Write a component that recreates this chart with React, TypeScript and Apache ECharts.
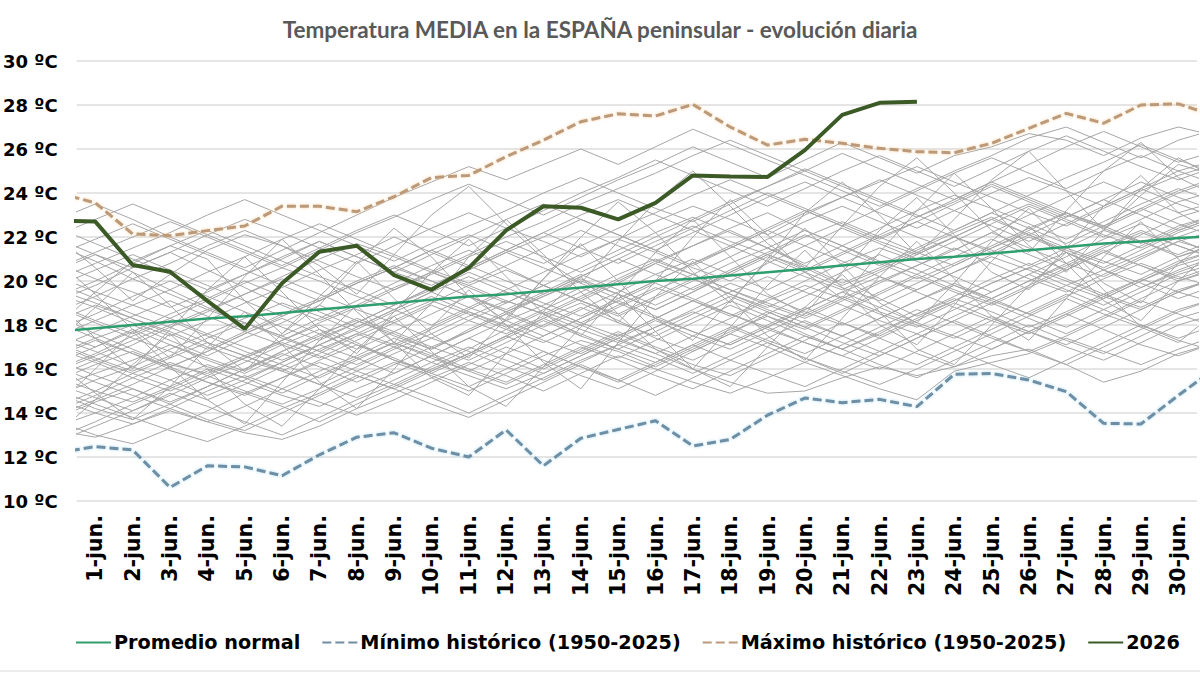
import React, { useEffect, useRef } from "react";
import * as echarts from "echarts";

// x positions: day of June (0 = 31-may, 31 = 1-jul, both clipped at the plot edges)
const dayNumbers = [0, 1, 2, 3, 4, 5, 6, 7, 8, 9, 10, 11, 12, 13, 14, 15, 16, 17, 18, 19, 20, 21, 22, 23, 24, 25, 26, 27, 28, 29, 30, 31];

const categories = [
  "1-jun.", "2-jun.", "3-jun.", "4-jun.", "5-jun.", "6-jun.", "7-jun.", "8-jun.", "9-jun.", "10-jun.",
  "11-jun.", "12-jun.", "13-jun.", "14-jun.", "15-jun.", "16-jun.", "17-jun.", "18-jun.", "19-jun.", "20-jun.",
  "21-jun.", "22-jun.", "23-jun.", "24-jun.", "25-jun.", "26-jun.", "27-jun.", "28-jun.", "29-jun.", "30-jun.",
];

const yTicks = [10, 12, 14, 16, 18, 20, 22, 24, 26, 28, 30];

const promedioNormal = [17.7, 17.85, 18.0, 18.15, 18.3, 18.4, 18.55, 18.7, 18.85, 19.0, 19.15, 19.3, 19.4, 19.55, 19.7, 19.85, 20.0, 20.1, 20.25, 20.4, 20.55, 20.7, 20.85, 21.0, 21.1, 21.25, 21.4, 21.55, 21.7, 21.8, 21.95, 22.05];
const minimoHistorico = [12.2, 12.47, 12.32, 10.62, 11.6, 11.55, 11.15, 12.1, 12.9, 13.1, 12.4, 12.0, 13.23, 11.6, 12.85, 13.25, 13.65, 12.5, 12.8, 13.9, 14.68, 14.47, 14.62, 14.29, 15.76, 15.8, 15.5, 14.97, 13.53, 13.5, 14.8, 16.04];
const maximoHistorico = [24.0, 23.55, 22.14, 22.06, 22.29, 22.5, 23.4, 23.4, 23.15, 23.83, 24.7, 24.8, 25.65, 26.4, 27.24, 27.6, 27.5, 28.03, 27.0, 26.18, 26.44, 26.26, 26.03, 25.88, 25.83, 26.26, 26.94, 27.62, 27.17, 28.0, 28.05, 27.5];
const year2026 = [22.75, 22.7, 20.73, 20.42, 19.1, 17.82, 19.9, 21.33, 21.6, 20.27, 19.6, 20.6, 22.3, 23.4, 23.33, 22.8, 23.55, 24.8, 24.75, 24.73, 25.95, 27.55, 28.1, 28.15];

const historicalYears = [
  "1950", "1951", "1952", "1953", "1954", "1955", "1956", "1957", "1958", "1959",
  "1960", "1961", "1962", "1963", "1964", "1965", "1966", "1967", "1968", "1969",
  "1970", "1971", "1972", "1973", "1974", "1975", "1976", "1977", "1978", "1979",
  "1980", "1981", "1982", "1983", "1984", "1985", "1986", "1987", "1988", "1989",
  "1990", "1991", "1992", "1993", "1994", "1995", "1996", "1997", "1998", "1999",
  "2000", "2001", "2002", "2003", "2004", "2005", "2006", "2007", "2008", "2009",
  "2010", "2011", "2012", "2013",
];
const historicalValues = [
  [15.2, 15.8, 16.4, 17.1, 16.5, 15.9, 16.8, 17.6, 18.2, 17.5, 16.9, 17.8, 18.6, 19.3, 20.1, 19.4, 18.7, 19.5, 20.4, 21.2, 20.6, 19.8, 20.5, 21.3, 22.0, 21.4, 20.7, 21.5, 22.3, 21.8, 21.1, 21.6],
  [18.4, 17.6, 16.9, 16.2, 15.8, 16.5, 17.3, 18.0, 17.2, 16.4, 15.9, 16.7, 17.5, 18.3, 19.0, 18.2, 17.4, 16.8, 17.6, 18.5, 19.3, 20.1, 19.2, 18.4, 19.1, 19.9, 20.6, 21.3, 20.5, 19.7, 20.4, 21.0],
  [20.5, 21.2, 20.4, 19.6, 18.8, 18.1, 17.5, 18.3, 19.1, 19.9, 20.7, 21.4, 20.6, 19.8, 19.1, 19.9, 20.8, 21.6, 22.3, 21.5, 20.7, 19.9, 20.6, 21.4, 22.2, 22.9, 22.1, 21.3, 20.5, 21.2, 22.0, 22.6],
  [13.8, 14.5, 15.1, 14.4, 13.7, 13.2, 14.0, 14.8, 15.6, 16.3, 15.7, 15.0, 15.8, 16.6, 17.3, 16.8, 16.1, 16.9, 17.7, 18.4, 17.6, 16.9, 17.6, 18.5, 19.2, 18.6, 17.9, 18.6, 19.4, 20.1, 19.5, 19.0],
  [16.9, 16.3, 15.6, 15.0, 15.7, 16.5, 17.2, 16.6, 15.9, 15.3, 16.1, 16.9, 17.8, 18.6, 18.0, 17.3, 16.7, 17.5, 18.3, 19.1, 19.8, 19.2, 18.5, 17.9, 18.7, 19.5, 20.3, 19.6, 18.9, 19.7, 20.5, 21.1],
  [19.1, 19.8, 20.6, 21.3, 20.5, 19.7, 18.9, 18.2, 18.9, 19.7, 20.4, 19.8, 19.1, 18.5, 19.3, 20.1, 20.9, 21.6, 22.4, 23.1, 22.3, 21.6, 20.8, 20.1, 20.8, 21.6, 22.4, 23.1, 22.5, 21.8, 21.2, 21.9],
  [14.6, 14.0, 13.5, 14.2, 15.0, 15.7, 15.1, 14.5, 13.9, 14.6, 15.4, 16.2, 17.0, 16.4, 15.7, 15.1, 15.9, 16.8, 17.6, 17.0, 16.3, 17.1, 17.9, 18.7, 18.1, 17.4, 16.8, 17.5, 18.3, 19.1, 18.5, 17.9],
  [17.5, 18.2, 18.9, 18.3, 17.6, 17.0, 16.4, 17.1, 17.9, 18.7, 19.5, 20.2, 19.5, 18.8, 18.1, 18.9, 19.7, 19.1, 18.4, 19.2, 20.0, 20.8, 21.5, 20.9, 20.2, 19.5, 20.3, 21.1, 21.9, 22.6, 21.9, 21.2],
  [21.6, 20.9, 20.1, 19.4, 18.7, 19.4, 20.2, 21.0, 21.7, 21.1, 20.4, 19.7, 19.0, 19.8, 20.6, 21.4, 22.2, 22.9, 22.2, 21.5, 20.8, 21.6, 22.4, 23.2, 23.9, 23.3, 22.6, 21.9, 22.7, 23.5, 24.2, 23.6],
  [15.9, 16.6, 17.3, 18.0, 18.7, 18.1, 17.4, 16.8, 16.2, 17.0, 17.8, 18.6, 18.0, 17.3, 16.7, 17.5, 18.3, 19.1, 19.9, 19.3, 18.6, 18.0, 18.8, 19.6, 20.4, 21.1, 20.5, 19.8, 19.2, 20.0, 20.8, 21.4],
  [12.9, 13.6, 14.4, 15.1, 15.9, 16.6, 16.0, 15.3, 14.7, 15.5, 16.3, 17.0, 16.4, 15.8, 16.6, 17.4, 18.2, 17.5, 16.9, 17.7, 18.5, 19.3, 18.6, 18.0, 17.4, 18.2, 19.0, 19.8, 20.5, 19.9, 19.2, 19.8],
  [18.9, 18.2, 17.6, 18.3, 19.1, 19.9, 20.6, 20.0, 19.3, 18.7, 18.0, 18.8, 19.6, 20.4, 21.2, 21.9, 21.3, 20.6, 20.0, 20.8, 21.6, 22.4, 21.7, 21.0, 21.8, 22.6, 23.4, 22.7, 22.0, 22.8, 23.6, 24.1],
  [16.4, 15.7, 15.1, 14.5, 15.2, 16.0, 16.8, 17.5, 18.3, 17.7, 17.0, 16.4, 17.2, 18.0, 18.8, 18.1, 17.5, 18.3, 19.1, 18.4, 17.8, 18.6, 19.4, 20.2, 19.5, 18.9, 19.7, 20.5, 21.3, 20.7, 20.0, 20.6],
  [22.4, 21.7, 21.0, 20.3, 19.6, 20.3, 21.1, 21.8, 21.1, 20.4, 21.2, 22.0, 22.8, 23.5, 22.8, 22.1, 21.4, 22.2, 23.0, 23.8, 24.5, 23.8, 23.1, 22.4, 23.2, 24.0, 24.7, 24.1, 23.4, 24.2, 25.0, 25.5],
  [14.1, 14.8, 15.6, 16.3, 15.7, 15.0, 14.4, 15.1, 15.9, 16.7, 17.4, 16.8, 16.1, 15.5, 16.3, 17.1, 17.9, 18.6, 18.0, 17.3, 16.7, 17.5, 18.3, 19.1, 19.8, 19.1, 18.5, 19.3, 20.1, 20.8, 20.2, 19.7],
  [19.8, 20.5, 21.2, 20.5, 19.8, 19.1, 18.4, 19.1, 19.9, 20.6, 20.0, 19.3, 18.6, 19.4, 20.2, 21.0, 20.3, 19.6, 20.4, 21.2, 22.0, 22.7, 22.0, 21.3, 20.7, 21.5, 22.3, 23.1, 22.4, 21.7, 22.5, 23.0],
  [17.2, 16.5, 15.9, 16.6, 17.4, 18.1, 17.5, 16.8, 17.6, 18.4, 19.1, 18.5, 17.8, 17.2, 18.0, 18.8, 19.6, 20.3, 19.6, 19.0, 18.4, 19.2, 20.0, 20.7, 21.5, 20.8, 20.1, 19.5, 20.3, 21.1, 21.8, 21.3],
  [15.5, 16.2, 16.8, 16.1, 15.4, 14.8, 15.6, 16.4, 17.1, 16.5, 15.8, 16.6, 17.4, 18.2, 17.5, 16.9, 17.7, 18.5, 19.3, 18.6, 17.9, 18.7, 19.5, 20.3, 19.6, 19.0, 19.8, 20.6, 21.4, 20.7, 20.1, 20.7],
  [20.8, 20.1, 19.5, 18.8, 19.5, 20.3, 21.0, 21.8, 21.1, 20.4, 19.8, 20.6, 21.4, 22.2, 21.5, 20.8, 21.6, 22.4, 23.2, 24.0, 23.3, 22.6, 21.9, 22.7, 23.5, 24.3, 23.6, 22.9, 23.7, 24.5, 23.8, 23.2],
  [13.4, 14.0, 14.7, 15.5, 16.2, 15.6, 14.9, 15.7, 16.5, 17.2, 16.6, 15.9, 15.3, 16.1, 16.9, 17.7, 17.0, 16.4, 17.2, 18.0, 18.8, 18.1, 17.5, 18.3, 19.1, 19.9, 20.6, 20.0, 19.3, 18.7, 19.5, 20.2],
  [17.8, 18.5, 19.3, 20.0, 19.3, 18.6, 17.9, 17.3, 18.1, 18.9, 19.7, 20.5, 21.3, 20.6, 19.9, 19.2, 20.0, 20.8, 21.6, 20.9, 20.2, 19.6, 20.4, 21.2, 22.0, 22.8, 23.5, 22.8, 22.1, 21.5, 22.3, 22.9],
  [16.1, 15.4, 14.8, 14.2, 13.6, 14.3, 15.1, 15.9, 16.6, 17.4, 16.7, 16.0, 15.4, 16.2, 17.0, 16.4, 15.7, 15.1, 15.9, 16.7, 17.5, 16.9, 16.2, 15.6, 16.4, 17.2, 18.0, 17.3, 16.7, 17.5, 18.3, 18.8],
  [14.8, 15.5, 16.1, 16.9, 17.6, 18.3, 19.0, 18.4, 17.7, 17.1, 17.9, 18.7, 19.5, 18.8, 18.1, 17.5, 18.3, 19.1, 18.5, 17.8, 17.2, 16.6, 17.4, 18.2, 19.0, 18.3, 17.7, 17.1, 17.9, 18.7, 19.5, 20.1],
  [19.4, 18.8, 18.1, 17.5, 18.2, 19.0, 19.7, 20.5, 21.2, 22.0, 21.3, 20.6, 21.4, 22.2, 23.0, 23.7, 23.0, 22.3, 21.6, 22.4, 23.2, 22.5, 21.8, 21.2, 22.0, 22.8, 22.1, 21.4, 20.8, 21.6, 22.4, 23.0],
  [21.2, 21.9, 22.6, 21.9, 21.2, 20.5, 19.8, 19.1, 19.9, 20.6, 21.4, 22.1, 21.4, 20.8, 21.6, 22.4, 23.1, 23.9, 24.6, 23.9, 23.2, 22.5, 23.3, 24.1, 24.9, 25.6, 24.9, 24.2, 25.0, 25.7, 25.0, 24.4],
  [16.7, 17.4, 18.0, 17.3, 16.6, 17.4, 18.1, 18.9, 18.2, 17.6, 16.9, 17.7, 18.5, 19.3, 20.0, 19.4, 18.7, 19.5, 20.3, 21.1, 20.4, 19.7, 19.1, 19.9, 20.7, 21.5, 22.2, 21.5, 20.9, 20.3, 21.1, 21.7],
  [18.1, 17.4, 16.7, 16.1, 16.8, 17.6, 18.4, 19.1, 19.9, 20.6, 21.4, 20.7, 20.0, 19.4, 20.2, 21.0, 21.8, 22.5, 21.8, 21.2, 20.5, 21.3, 22.1, 22.9, 23.6, 24.4, 23.7, 23.0, 22.4, 23.2, 24.0, 24.6],
  [15.0, 14.4, 13.8, 13.2, 12.7, 13.4, 14.2, 14.9, 15.7, 15.1, 14.4, 13.8, 14.6, 15.4, 16.2, 15.5, 14.8, 15.6, 16.4, 17.2, 16.5, 15.8, 16.6, 17.4, 18.2, 19.0, 18.3, 17.6, 18.4, 19.2, 20.0, 20.5],
  [20.2, 19.5, 18.9, 19.6, 20.4, 21.1, 21.9, 22.6, 21.9, 21.2, 20.5, 19.9, 20.7, 21.5, 22.3, 21.6, 20.9, 20.3, 21.1, 21.9, 22.7, 23.4, 22.7, 22.0, 21.4, 22.2, 23.0, 23.8, 24.5, 23.8, 23.1, 23.6],
  [17.0, 17.7, 18.4, 19.1, 18.4, 17.7, 17.1, 16.5, 17.3, 18.1, 18.9, 18.2, 17.6, 18.4, 19.2, 20.0, 20.8, 20.1, 19.4, 18.8, 19.6, 20.4, 21.2, 20.5, 19.8, 19.2, 20.0, 20.8, 21.6, 22.3, 21.6, 21.0],
  [22.8, 23.5, 22.8, 22.0, 21.3, 20.6, 21.4, 22.2, 23.0, 23.8, 24.5, 25.2, 24.6, 25.3, 26.0, 25.3, 26.1, 26.9, 26.2, 25.5, 24.8, 24.1, 23.4, 24.2, 25.0, 25.7, 26.5, 27.0, 26.3, 25.6, 26.4, 26.9],
  [13.2, 12.9, 13.5, 14.1, 13.6, 13.1, 12.8, 13.4, 14.2, 14.9, 15.6, 16.3, 15.7, 15.0, 15.8, 16.6, 16.0, 15.4, 14.9, 15.6, 16.3, 15.7, 15.1, 14.6, 15.9, 16.3, 16.7, 17.4, 16.8, 16.2, 16.9, 17.5],
  [18.6, 19.3, 20.1, 20.8, 21.6, 22.3, 21.6, 20.9, 20.2, 19.6, 20.4, 21.2, 22.0, 22.7, 23.5, 24.2, 24.9, 25.7, 26.4, 25.7, 25.0, 24.3, 23.6, 22.9, 23.7, 24.5, 23.8, 23.1, 22.5, 23.3, 24.1, 24.7],
  [16.6, 17.3, 16.7, 16.0, 15.4, 14.9, 15.6, 16.3, 15.7, 15.1, 15.9, 16.7, 17.5, 18.3, 17.6, 16.9, 16.3, 17.1, 17.9, 17.2, 16.5, 15.9, 15.3, 16.0, 16.8, 17.6, 18.4, 19.2, 18.5, 17.9, 18.7, 19.2],
  [19.9, 19.2, 18.5, 17.9, 17.2, 16.6, 17.3, 18.1, 18.8, 19.6, 20.3, 21.1, 21.8, 21.1, 20.4, 21.2, 22.0, 22.8, 23.6, 24.3, 25.1, 24.4, 23.7, 23.0, 22.3, 23.1, 23.9, 24.7, 25.4, 26.2, 25.5, 24.9],
  [14.3, 15.0, 15.8, 16.5, 17.2, 16.6, 15.9, 15.3, 16.1, 16.9, 17.6, 18.4, 19.1, 18.5, 17.8, 17.2, 17.9, 18.7, 19.5, 20.2, 19.5, 18.9, 18.2, 17.6, 18.4, 19.2, 20.0, 20.7, 21.5, 22.2, 21.6, 21.0],
  [21.9, 21.2, 20.6, 21.3, 22.1, 22.8, 22.2, 21.5, 20.8, 21.6, 22.4, 23.1, 22.4, 21.8, 21.1, 21.9, 22.7, 23.4, 22.8, 22.1, 23.0, 23.8, 24.5, 25.2, 24.5, 23.8, 23.1, 22.5, 23.3, 24.1, 24.8, 25.3],
  [16.0, 16.7, 17.5, 18.2, 17.5, 16.8, 16.2, 15.6, 16.4, 17.2, 16.5, 15.9, 16.7, 17.5, 18.3, 19.1, 18.4, 17.7, 17.1, 17.9, 18.7, 19.5, 20.2, 19.5, 18.8, 18.2, 17.6, 18.4, 19.2, 20.0, 20.7, 21.2],
  [13.6, 13.0, 12.6, 13.3, 14.1, 14.9, 14.3, 13.6, 14.4, 15.2, 16.0, 16.7, 17.5, 16.8, 16.1, 15.5, 16.3, 17.1, 16.4, 15.8, 15.2, 16.0, 16.8, 17.6, 16.9, 16.2, 15.6, 16.4, 17.2, 18.0, 17.3, 16.8],
  [19.3, 20.0, 20.8, 21.6, 22.3, 21.6, 20.9, 20.2, 19.6, 18.9, 19.7, 20.5, 21.3, 22.0, 22.8, 22.1, 21.4, 20.7, 21.5, 22.3, 23.1, 23.8, 24.6, 23.9, 23.2, 22.5, 21.8, 22.6, 23.4, 24.2, 23.5, 22.9],
  [17.4, 16.8, 16.1, 15.5, 14.8, 15.5, 16.3, 17.1, 17.8, 18.6, 19.3, 18.6, 17.9, 18.7, 19.5, 20.3, 21.0, 20.3, 19.6, 18.9, 18.3, 19.1, 19.9, 20.7, 21.4, 22.2, 21.5, 20.8, 20.2, 21.0, 21.8, 22.3],
  [15.3, 14.7, 14.1, 14.8, 15.6, 16.3, 17.1, 17.8, 17.1, 16.4, 15.8, 15.2, 16.0, 16.8, 16.1, 15.4, 16.2, 17.0, 17.8, 18.6, 17.9, 17.2, 16.6, 17.4, 18.2, 17.5, 16.8, 16.2, 17.0, 17.8, 18.6, 19.2],
  [20.1, 20.8, 21.5, 22.2, 23.0, 23.7, 23.0, 22.3, 21.6, 20.9, 21.7, 22.5, 23.2, 24.0, 24.7, 24.0, 23.3, 22.7, 23.5, 24.3, 25.0, 25.8, 25.1, 24.4, 23.7, 24.5, 25.3, 26.1, 26.8, 26.1, 25.4, 25.9],
  [12.7, 13.4, 14.1, 14.9, 14.3, 13.6, 13.0, 13.8, 14.6, 15.3, 14.7, 14.0, 14.8, 15.6, 16.4, 17.1, 16.5, 15.8, 16.6, 17.4, 18.2, 17.5, 16.8, 16.2, 17.0, 17.8, 18.6, 19.4, 18.7, 18.0, 17.4, 18.0],
  [18.2, 18.9, 18.3, 17.6, 16.9, 17.7, 18.5, 19.2, 20.0, 20.7, 20.0, 19.3, 18.7, 19.5, 20.3, 19.6, 18.9, 19.7, 20.5, 21.3, 22.1, 21.4, 20.7, 21.5, 22.3, 23.1, 22.4, 21.7, 22.5, 23.3, 22.6, 22.0],
  [16.3, 17.0, 17.8, 17.1, 16.4, 15.8, 16.6, 17.4, 18.1, 18.9, 19.6, 20.4, 19.7, 19.0, 18.4, 19.2, 20.0, 20.8, 21.5, 22.3, 21.6, 20.9, 20.2, 19.6, 20.4, 21.2, 22.0, 21.3, 20.6, 21.4, 22.2, 22.8],
  [14.9, 14.2, 13.7, 14.4, 15.2, 16.0, 16.7, 16.1, 15.4, 16.2, 17.0, 17.7, 18.5, 17.8, 17.1, 16.5, 17.3, 18.1, 18.9, 18.2, 17.5, 16.9, 17.7, 18.5, 19.3, 20.1, 20.8, 20.1, 19.4, 18.8, 19.6, 20.1],
  [22.1, 22.8, 23.5, 22.8, 22.1, 21.4, 20.7, 21.5, 22.3, 23.0, 22.3, 21.6, 22.4, 23.2, 24.0, 24.7, 25.5, 24.8, 24.1, 23.4, 24.2, 25.0, 25.7, 25.0, 24.3, 25.1, 25.9, 26.6, 25.9, 25.2, 24.6, 25.2],
  [17.6, 17.0, 17.7, 18.5, 19.2, 20.0, 19.3, 18.6, 17.9, 18.7, 19.5, 18.8, 18.2, 17.5, 18.3, 19.1, 19.9, 19.2, 18.5, 17.9, 18.7, 19.5, 18.8, 18.1, 17.5, 16.9, 17.7, 18.5, 19.3, 20.1, 20.9, 21.4],
  [15.7, 16.4, 17.1, 17.9, 18.6, 19.4, 20.1, 19.4, 18.7, 18.1, 17.4, 18.2, 19.0, 19.8, 19.1, 18.4, 19.2, 20.0, 20.8, 21.5, 22.3, 21.6, 20.9, 20.3, 21.1, 21.9, 21.2, 20.5, 21.3, 22.1, 22.9, 23.4],
  [19.6, 19.0, 18.3, 17.7, 17.0, 16.4, 15.9, 16.7, 17.5, 18.2, 19.0, 19.8, 20.5, 19.8, 19.1, 18.5, 19.3, 20.1, 19.4, 18.7, 18.1, 17.5, 18.3, 19.1, 19.9, 19.2, 18.5, 17.9, 18.7, 19.5, 20.3, 20.8],
  [13.9, 14.6, 15.3, 16.1, 16.8, 17.6, 18.3, 17.6, 16.9, 17.7, 18.5, 19.3, 18.6, 17.9, 18.7, 19.5, 20.3, 21.0, 20.3, 19.6, 20.4, 21.2, 22.0, 22.7, 22.0, 21.3, 22.1, 22.9, 23.7, 23.0, 22.3, 22.9],
  [18.8, 18.1, 17.4, 16.8, 16.1, 15.6, 16.3, 17.1, 16.5, 15.8, 16.6, 17.4, 18.2, 18.9, 19.7, 19.0, 18.3, 17.7, 17.1, 17.9, 17.2, 16.6, 16.0, 16.8, 17.6, 18.4, 17.7, 17.0, 16.4, 17.2, 18.0, 18.5],
  [20.6, 21.3, 22.0, 22.7, 22.0, 21.3, 20.6, 21.4, 22.2, 22.9, 23.7, 24.4, 23.7, 23.0, 23.8, 24.6, 25.3, 26.1, 25.4, 24.7, 25.5, 26.3, 25.6, 24.9, 25.7, 26.1, 26.7, 26.4, 25.7, 26.5, 27.0, 26.6],
  [15.6, 15.0, 14.5, 15.2, 16.0, 15.4, 14.8, 14.3, 15.1, 15.8, 16.6, 17.4, 16.7, 16.0, 16.8, 17.6, 16.9, 16.2, 15.7, 16.5, 17.3, 18.1, 17.4, 16.7, 16.1, 16.9, 17.7, 18.5, 17.8, 17.1, 16.6, 17.2],
  [17.1, 16.4, 15.8, 15.2, 14.6, 15.3, 16.1, 16.9, 17.6, 17.0, 16.3, 15.7, 15.1, 15.8, 16.6, 17.4, 16.7, 16.0, 15.4, 14.9, 15.0, 15.6, 16.1, 15.7, 16.1, 16.6, 16.9, 16.2, 15.4, 15.9, 16.7, 17.2],
  [18.0, 19.5, 20.9, 21.6, 21.0, 19.1, 17.6, 18.9, 20.8, 22.4, 21.1, 19.3, 18.2, 20.1, 22.0, 23.6, 22.2, 20.4, 19.0, 21.0, 23.1, 24.5, 23.0, 21.2, 22.8, 24.6, 25.9, 24.1, 22.3, 23.9, 25.3, 24.8],
  [16.2, 14.9, 13.7, 15.2, 17.0, 18.6, 17.1, 15.4, 14.2, 16.0, 17.9, 19.6, 18.0, 16.3, 15.1, 17.2, 19.3, 20.9, 19.2, 17.5, 16.4, 18.3, 20.2, 21.8, 20.1, 18.4, 17.3, 19.2, 21.1, 22.7, 21.0, 19.8],
  [20.9, 19.4, 17.8, 16.5, 18.3, 20.2, 21.9, 20.3, 18.6, 17.2, 19.0, 21.1, 22.8, 21.2, 19.5, 18.1, 20.0, 22.0, 23.7, 22.1, 20.4, 19.2, 21.3, 23.2, 24.9, 23.3, 21.6, 20.4, 22.3, 24.2, 25.6, 24.7],
  [14.4, 16.0, 17.7, 16.1, 14.6, 13.5, 15.4, 17.3, 18.9, 17.2, 15.6, 14.8, 16.7, 18.6, 20.2, 18.5, 16.9, 16.0, 17.9, 19.8, 21.4, 19.7, 18.0, 17.1, 18.9, 20.9, 22.5, 20.8, 19.1, 18.2, 20.0, 21.5],
  [22.0, 20.6, 19.1, 20.3, 21.4, 22.1, 21.6, 20.7, 19.4, 21.2, 23.0, 24.3, 22.6, 21.0, 19.9, 21.8, 23.6, 25.0, 23.4, 21.7, 20.6, 22.5, 24.3, 25.6, 24.0, 22.3, 21.3, 23.2, 25.0, 26.3, 24.7, 23.9],
  [17.3, 18.8, 20.4, 18.9, 17.2, 15.9, 17.6, 19.3, 20.9, 19.2, 17.6, 16.5, 18.3, 20.1, 21.7, 20.0, 18.3, 17.3, 19.1, 20.9, 22.4, 20.7, 19.0, 18.1, 19.9, 21.8, 23.3, 21.6, 19.9, 19.0, 20.8, 22.0],
  [13.1, 14.6, 16.2, 17.6, 16.0, 14.4, 13.4, 15.1, 16.9, 18.4, 16.8, 15.2, 14.3, 16.1, 17.9, 19.4, 17.7, 16.0, 15.2, 17.0, 18.8, 20.3, 18.6, 16.9, 16.2, 18.0, 19.8, 21.3, 19.6, 17.9, 17.2, 18.6],
  [19.0, 17.4, 16.0, 17.8, 19.6, 21.1, 19.5, 17.8, 16.7, 18.6, 20.4, 21.9, 20.2, 18.5, 17.5, 19.4, 21.3, 22.8, 21.1, 19.4, 18.5, 20.4, 22.3, 23.8, 22.1, 20.4, 19.6, 21.5, 23.4, 24.8, 23.1, 22.2],
];

const pair = (vals: number[]) => vals.map((v, i) => [dayNumbers[i], v]);

const FONT = "DejaVu Sans";

export default function App() {
  const ref = useRef<HTMLDivElement>(null);
  useEffect(() => {
    if (!ref.current) return;
    const chart = echarts.init(ref.current, null, { renderer: "svg" });
    const grayLines = historicalValues.map((vals, k) => ({
      name: historicalYears[k],
      type: "line",
      xAxisIndex: 1,
      data: pair(vals),
      showSymbol: false,
      symbol: "none",
      silent: true,
      z: 1,
      lineStyle: { color: "#a6a6a6", width: 1 },
    }));
    chart.setOption({
      animation: false,
      backgroundColor: "#ffffff",
      title: {
        text: "Temperatura MEDIA en la ESPAÑA peninsular - evolución diaria",
        left: "center",
        top: 13,
        textStyle: { fontFamily: "Lato", fontWeight: "bold", fontSize: 22.5, color: "#595959" },
      },
      legend: {
        data: ["Promedio normal", "Mínimo histórico (1950-2025)", "Máximo histórico (1950-2025)", "2026"],
        left: 70,
        top: 628,
        itemWidth: 35,
        itemHeight: 14,
        itemGap: 21,
        itemStyle: { opacity: 0 },
        textStyle: { fontFamily: FONT, fontWeight: "bold", fontSize: 19.25, color: "#000000", padding: [0, 0, 0, -2] },
      },
      grid: { left: 73, right: 3, top: 61, bottom: 174, containLabel: false },
      xAxis: [
        {
          type: "category",
          data: categories,
          boundaryGap: true,
          axisLine: { show: false },
          axisTick: { show: false },
          axisLabel: {
            interval: 0,
            rotate: 90,
            margin: 14,
            fontFamily: FONT,
            fontWeight: "bold",
            fontSize: 20.5,
            color: "#000000",
          },
          splitLine: { show: false },
        },
        { type: "value", min: 0.5, max: 30.5, show: false },
      ],
      yAxis: {
        type: "value",
        min: yTicks[0],
        max: yTicks[yTicks.length - 1],
        interval: 2,
        axisLine: { show: false },
        axisTick: { show: false },
        axisLabel: {
          formatter: "{value} ºC",
          margin: 19,
          fontFamily: FONT,
          fontWeight: "bold",
          fontSize: 18,
          color: "#000000",
        },
        splitLine: { lineStyle: { color: "#dcdcdc", width: 1.5 } },
      },
      graphic: [
        { type: "line", shape: { x1: 0, y1: 671, x2: 1200, y2: 671 }, style: { stroke: "#d9d9d9", lineWidth: 1 } },
      ],
      series: [
        ...grayLines,
        {
          name: "Promedio normal",
          type: "line",
          xAxisIndex: 1,
          data: pair(promedioNormal),
          showSymbol: false,
          symbol: "none",
          z: 3,
          lineStyle: { color: "#2f9e6e", width: 2.5 },
          itemStyle: { color: "#2f9e6e" },
        },
        {
          name: "Mínimo histórico (1950-2025)",
          type: "line",
          xAxisIndex: 1,
          data: pair(minimoHistorico),
          showSymbol: false,
          symbol: "none",
          z: 4,
          lineStyle: { color: "#6f8ea3", width: 3, type: [9, 4], shadowColor: "rgba(160,215,240,0.9)", shadowBlur: 3 },
          itemStyle: { color: "#6f8ea3" },
        },
        {
          name: "Máximo histórico (1950-2025)",
          type: "line",
          xAxisIndex: 1,
          data: pair(maximoHistorico),
          showSymbol: false,
          symbol: "none",
          z: 4,
          lineStyle: { color: "#bb9a7c", width: 3, type: [9, 4], shadowColor: "rgba(250,205,150,0.9)", shadowBlur: 3 },
          itemStyle: { color: "#bb9a7c" },
        },
        {
          name: "2026",
          type: "line",
          xAxisIndex: 1,
          data: pair(year2026),
          showSymbol: false,
          symbol: "none",
          z: 5,
          lineStyle: { color: "#3b5a25", width: 4 },
          itemStyle: { color: "#3b5a25" },
        },
      ],
    });
    return () => chart.dispose();
  }, []);
  return (
    <div
      ref={ref}
      style={{ position: "absolute", left: 0, top: 0, width: 1200, height: 675, background: "#fff" }}
    />
  );
}
